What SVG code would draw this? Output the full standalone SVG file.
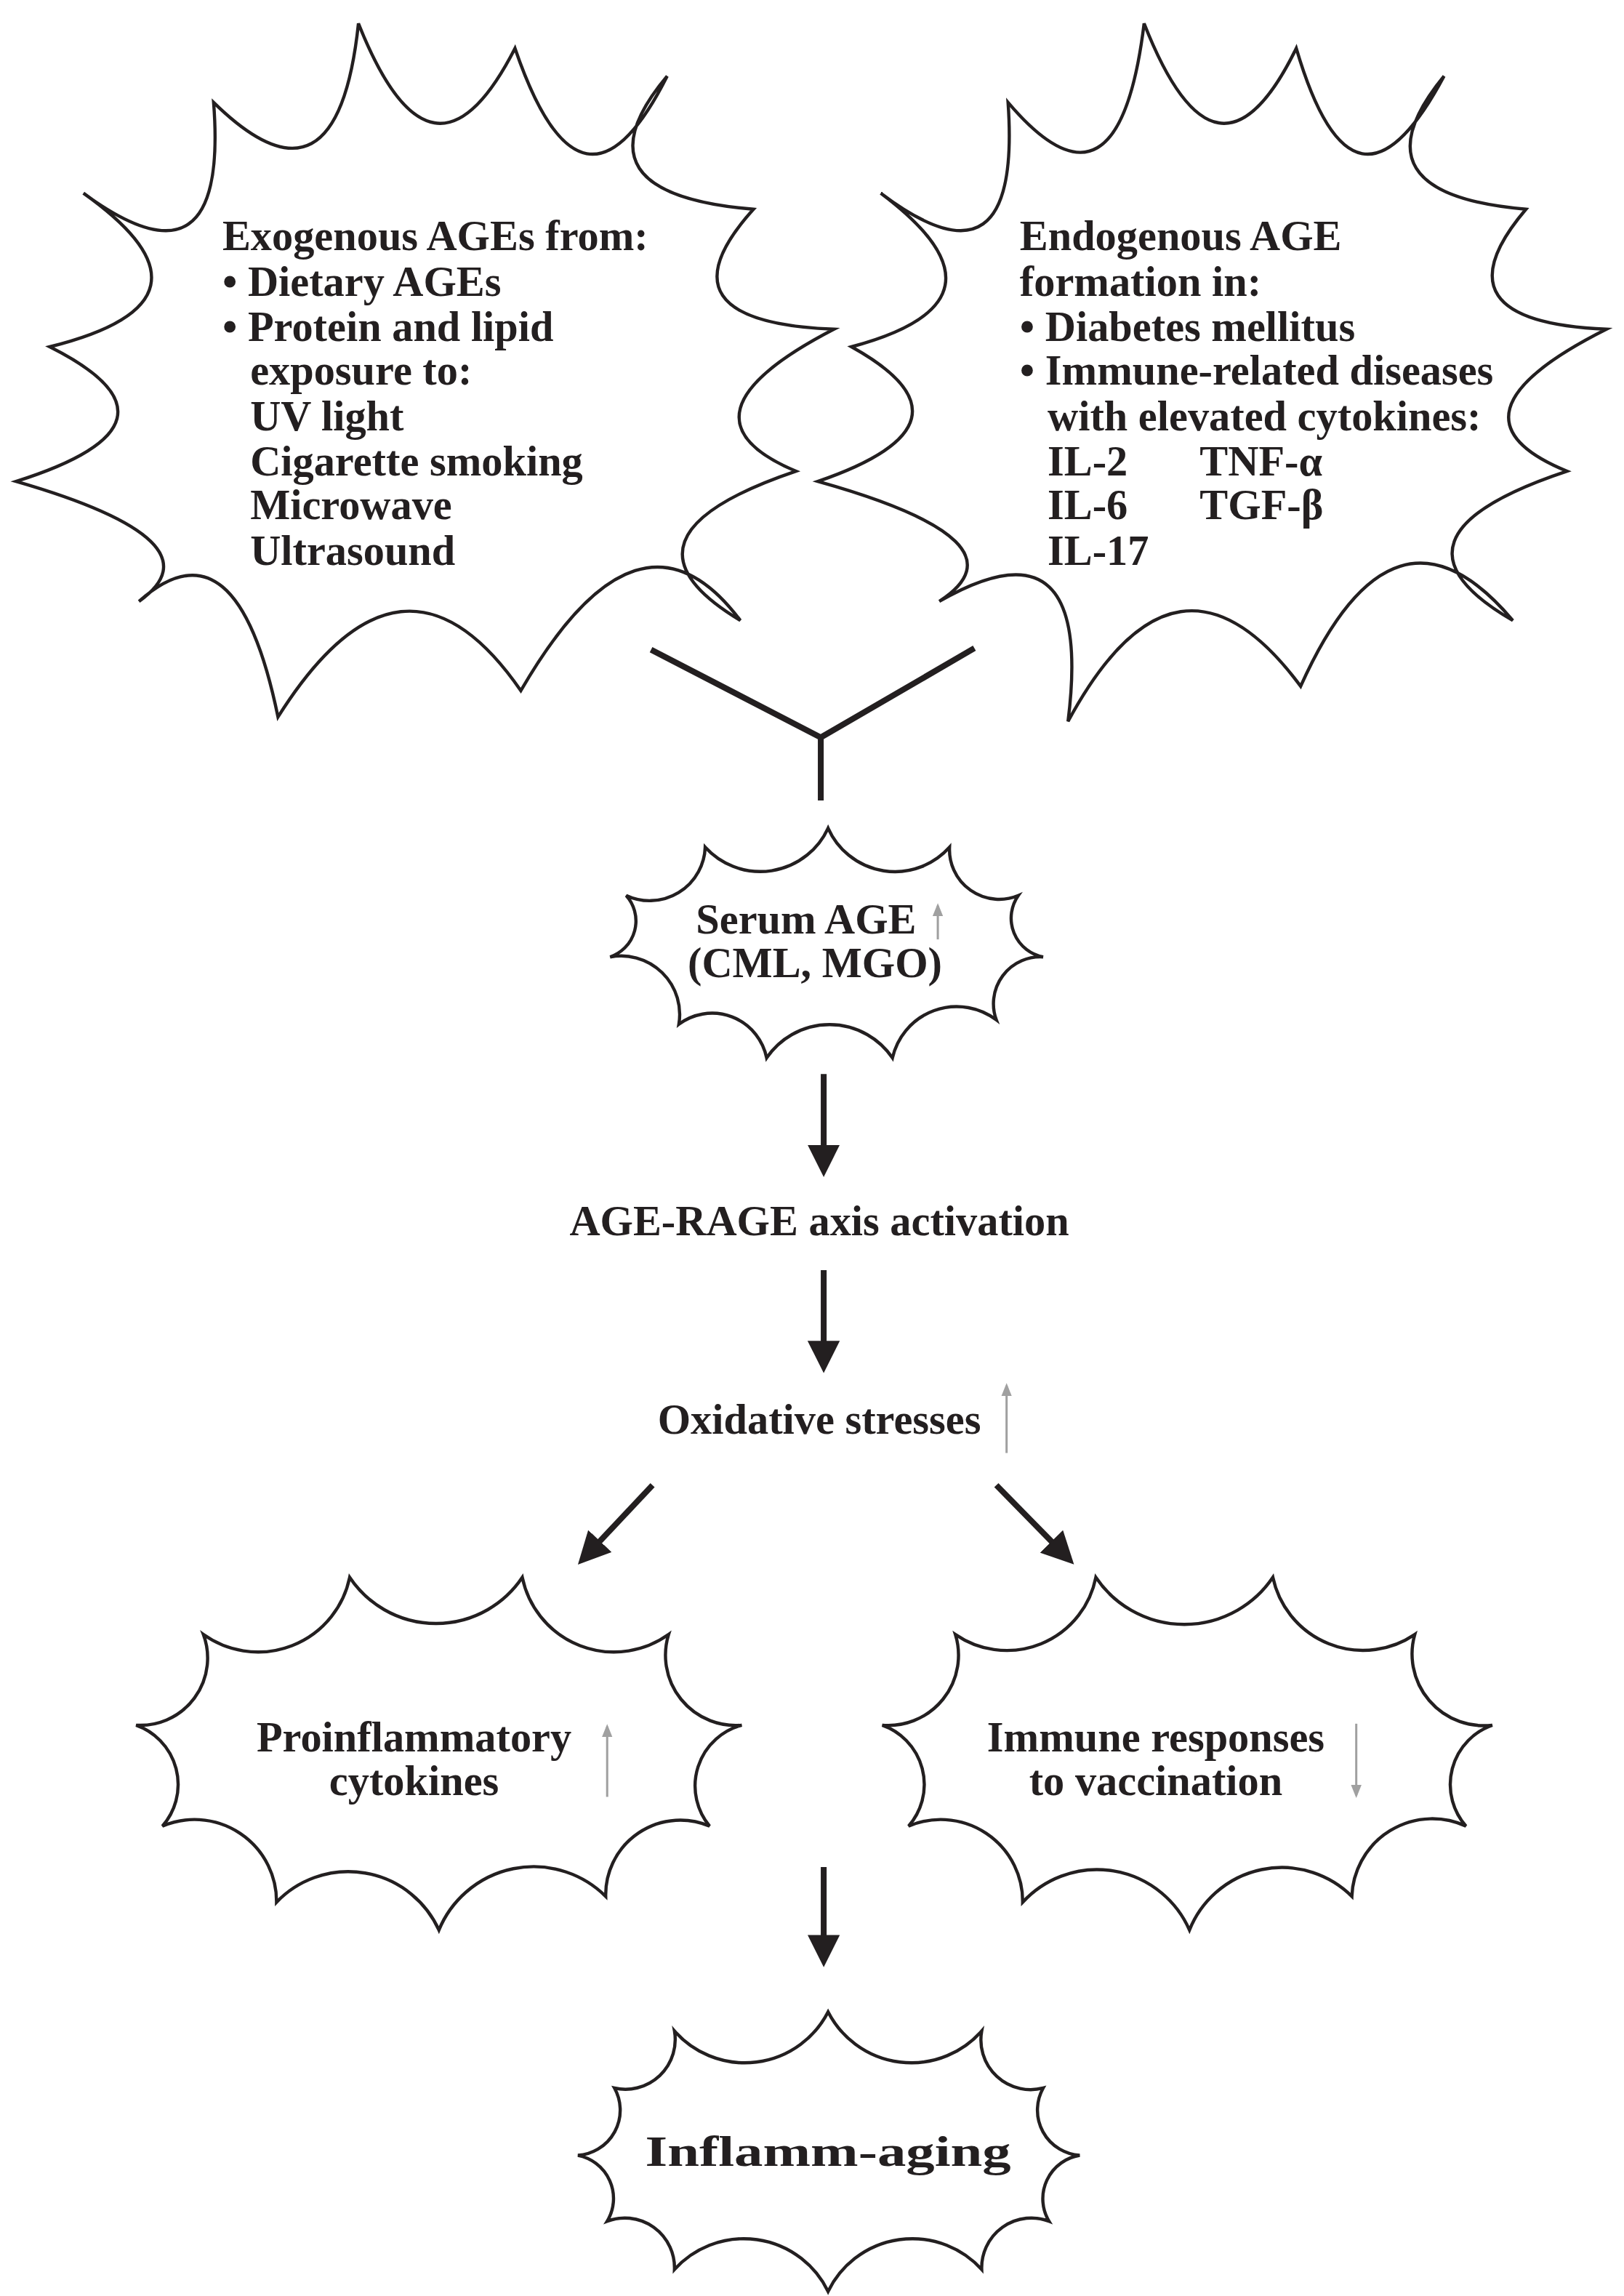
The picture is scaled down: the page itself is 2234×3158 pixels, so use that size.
<svg xmlns="http://www.w3.org/2000/svg" width="2234" height="3158" viewBox="0 0 2234 3158">
<style>
.b{fill:#fff;stroke:#231f20;stroke-width:2.2;stroke-linejoin:miter}
.t{font-family:"Liberation Serif",serif;font-weight:bold;font-size:29px;fill:#231f20}
.c{stroke:#231f20;stroke-width:4;fill:none}
.g{stroke:#a0a0a0;stroke-width:1.5;fill:none}
</style>
<defs>
<marker id="ah" viewBox="0 0 10 10" refX="8" refY="5" markerWidth="5.5" markerHeight="5.5" orient="auto" markerUnits="strokeWidth"><path d="M0,0L10,5L0,10z" fill="#231f20"/></marker>
<marker id="gh" viewBox="0 0 10 10" refX="8" refY="5" markerWidth="6" markerHeight="6" orient="auto" markerUnits="strokeWidth"><path d="M0,1L10,5L0,9z" fill="#a0a0a0"/></marker>
</defs>
<rect width="2234" height="3158" fill="#fff"/>
<g transform="scale(2.0126)">
<g id="exo">
<path class="b" d="M245,16 Q295.5,143.5 352,33 Q398,167.5 456,52 Q388.5,132.5 515,143 Q445.5,220 570,225 Q455,284.5 544,322 Q411,367 506,424 Q437,332 356,472 Q275,355 190,490 Q161.5,351.5 95,411 Q153,370 11,329 Q137.5,289 34,237 Q160.5,205.5 57,132 Q156.5,205 146,70 Q230.5,153 245,16Z"/>
<text class="t" x="152" y="171">Exogenous AGEs from:</text>
<text class="t" x="152" y="202">• Dietary AGEs</text>
<text class="t" x="152" y="233">• Protein and lipid</text>
<text class="t" x="171" y="263">exposure to:</text>
<text class="t" x="171" y="294">UV light</text>
<text class="t" x="171" y="325">Cigarette smoking</text>
<text class="t" x="171" y="355">Microwave</text>
<text class="t" x="171" y="386">Ultrasound</text>
</g>
<g id="endo">
<path class="b" d="M782,16 Q832,143.5 886,33 Q925.5,167.5 987,52 Q921,132.5 1043,143 Q977.5,220 1098,225 Q979.5,284.5 1071,322 Q935.5,367 1034,424 Q952.5,327.5 889,469 Q804.5,355 730,493 Q748,350 642,411 Q705.5,370 559,329 Q675.5,289 582,237 Q700,205.5 602,132 Q698.5,205 689,70 Q764.5,159 782,16Z"/>
<text class="t" x="697" y="171">Endogenous AGE</text>
<text class="t" x="697" y="202">formation in:</text>
<text class="t" x="697" y="233">• Diabetes mellitus</text>
<text class="t" x="697" y="263">• Immune-related diseases</text>
<text class="t" x="716" y="294">with elevated cytokines:</text>
<text class="t" x="716" y="325">IL-2</text><text class="t" x="820" y="325">TNF-α</text>
<text class="t" x="716" y="355">IL-6</text><text class="t" x="820" y="355">TGF-β</text>
<text class="t" x="716" y="386">IL-17</text>
</g>
<g id="serum">
<path class="b" d="M566,566 A50,50 0 0 0 649,579 A34,34 0 0 0 696,612 A27,27 0 0 0 713,654 A32,32 0 0 0 681,697 A45,45 0 0 0 610,723 A52,52 0 0 0 524,723 A38,38 0 0 0 464,700 A40,40 0 0 0 417,654 A26,26 0 0 0 428,612 A38,38 0 0 0 482,579 A51,51 0 0 0 566,566Z"/>
<text class="t" x="551" y="638" text-anchor="middle">Serum AGE</text>
<text class="t" x="557" y="668" text-anchor="middle">(CML, MGO)</text>
<line class="g" x1="641" y1="642" x2="641" y2="619" marker-end="url(#gh)"/>
</g>
<g id="rage"><text class="t" x="560" y="844" text-anchor="middle">AGE-RAGE axis activation</text></g>
<g id="ox"><text class="t" x="560" y="980" text-anchor="middle">Oxidative stresses</text>
<line class="g" x1="688" y1="993" x2="688" y2="947" marker-end="url(#gh)"/></g>
<g id="pro">
<path class="b" d="M239,1078 A71,71 0 0 0 357,1078 A64,64 0 0 0 457,1117 A48,48 0 0 0 507,1179 A43,43 0 0 0 485,1248 A51,51 0 0 0 414,1296 A70,70 0 0 0 300,1319 A68,68 0 0 0 189,1300 A56,56 0 0 0 111,1248 A43,43 0 0 0 93,1179 A46,46 0 0 0 139,1117 A64,64 0 0 0 239,1078Z"/>
<text class="t" x="283" y="1197" text-anchor="middle">Proinflammatory</text>
<text class="t" x="283" y="1227" text-anchor="middle">cytokines</text>
<line class="g" x1="415" y1="1228" x2="415" y2="1180" marker-end="url(#gh)"/>
</g>
<g id="imm">
<path class="b" d="M749,1078 A73,73 0 0 0 870,1078 A63,63 0 0 0 967,1117 A49,49 0 0 0 1020,1179 A43,43 0 0 0 1002,1248 A55,55 0 0 0 924,1296 A68,68 0 0 0 813,1319 A69,69 0 0 0 699,1300 A56,56 0 0 0 621,1248 A43,43 0 0 0 603,1179 A48,48 0 0 0 653,1117 A62,62 0 0 0 749,1078Z"/>
<text class="t" x="790" y="1197" text-anchor="middle">Immune responses</text>
<text class="t" x="790" y="1227" text-anchor="middle">to vaccination</text>
<line class="g" x1="927" y1="1178" x2="927" y2="1227" marker-end="url(#gh)"/>
</g>
<g id="aging">
<path class="b" d="M566,1375 A64,64 0 0 0 671,1388 A34,34 0 0 0 713,1427 A31,31 0 0 0 738,1473 A30,30 0 0 0 717,1518 A34,34 0 0 0 671,1551 A64,64 0 0 0 566,1566 A64,64 0 0 0 461,1551 A34,34 0 0 0 415,1518 A30,30 0 0 0 395,1473 A31,31 0 0 0 420,1427 A34,34 0 0 0 461,1388 A64,64 0 0 0 566,1375Z"/>
<text class="t" x="566" y="1480" text-anchor="middle" font-size="50" textLength="250" lengthAdjust="spacingAndGlyphs">Inflamm-aging</text>
</g>
<g id="connectors">
<path class="c" d="M445,444L561,504L666,443M561,504V547"/>
<line class="c" x1="563" y1="734" x2="563" y2="800" marker-end="url(#ah)"/>
<line class="c" x1="563" y1="868" x2="563" y2="934" marker-end="url(#ah)"/>
<line class="c" x1="446" y1="1015" x2="398" y2="1066" marker-end="url(#ah)"/>
<line class="c" x1="681" y1="1015" x2="731" y2="1066" marker-end="url(#ah)"/>
<line class="c" x1="563" y1="1276" x2="563" y2="1340" marker-end="url(#ah)"/>
</g>
</g>
</svg>
